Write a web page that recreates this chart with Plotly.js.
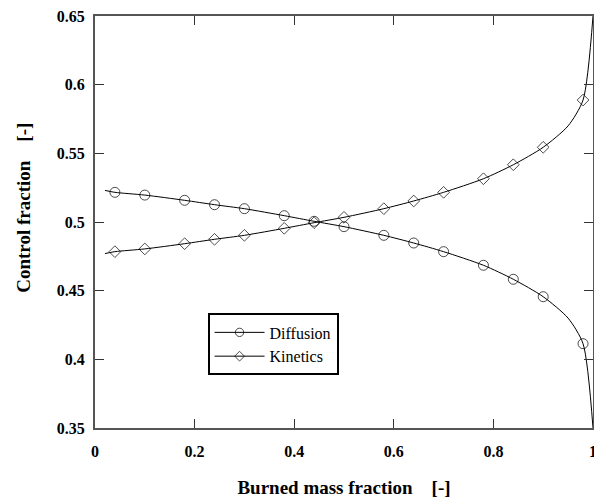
<!DOCTYPE html>
<html><head><meta charset="utf-8">
<script src="https://cdn.plot.ly/plotly-3.0.1.min.js"></script>
<style>html,body{margin:0;padding:0;background:#fff}</style>
</head><body>
<div id="chart" style="width:594px;height:499px"></div>
<script>
// burned mass fraction at curve points (endpoints and bend point carry no marker)
const burnedMass = [0.02, 0.04, 0.10, 0.18, 0.24, 0.30, 0.38, 0.44, 0.50, 0.58, 0.64, 0.70, 0.78, 0.84, 0.90, 0.95, 0.98, 1.00];
const diffusion  = [0.523, 0.5216, 0.5196, 0.5158, 0.5126, 0.5097, 0.5046, 0.5005, 0.4966, 0.4903, 0.4847, 0.4784, 0.4685, 0.4583, 0.4456, 0.430, 0.4114, 0.35];
const kinetics   = [0.477, 0.4784, 0.4804, 0.4842, 0.4874, 0.4903, 0.4954, 0.4995, 0.5034, 0.5097, 0.5153, 0.5216, 0.5315, 0.5417, 0.5544, 0.570, 0.5888, 0.65];
const hasMarker  = [0, 1, 1, 1, 1, 1, 1, 1, 1, 1, 1, 1, 1, 1, 1, 0, 1, 0];
const seriesNames = ['Diffusion', 'Kinetics'];
const xTicks = [0, 0.2, 0.4, 0.6, 0.8, 1];
const xTickText = ['0', '0.2', '0.4', '0.6', '0.8', '1'];
const yTicks = [0.35, 0.4, 0.45, 0.5, 0.55, 0.6, 0.65];
const yTickText = ['0.35', '0.4', '0.45', '0.5', '0.55', '0.6', '0.65'];

const sizes = hasMarker.map(m => m ? 10 : 0);
const FAM = 'Liberation Serif';
const NB = '\u00a0';

const traces = [
  {x: burnedMass, y: diffusion, name: seriesNames[0], mode: 'lines+markers', cliponaxis: false,
   line: {color: '#000', width: 1, shape: 'spline', smoothing: 0.7},
   marker: {symbol: 'circle-open', size: sizes, color: '#000', line: {width: 1, color: '#000'}}},
  {x: burnedMass, y: kinetics, name: seriesNames[1], mode: 'lines+markers', cliponaxis: false,
   line: {color: '#000', width: 1, shape: 'spline', smoothing: 0.7},
   marker: {symbol: 'diamond-open', size: sizes.map(s => s ? 9 : 0), color: '#000', line: {width: 1, color: '#000'}}}
];

const axisCommon = {
  showline: true, linecolor: '#555', linewidth: 2, mirror: 'ticks',
  ticks: 'inside', ticklen: 9, tickwidth: 1, tickcolor: '#333',
  showgrid: false, zeroline: false, ticklabeloverflow: 'allow',
  tickfont: {family: FAM, size: 16, color: '#000'}
};

const layout = {
  width: 594, height: 499,
  margin: {l: 95, r: 1, t: 16, b: 71},
  paper_bgcolor: '#fff', plot_bgcolor: '#fff',
  showlegend: true,
  xaxis: Object.assign({}, axisCommon, {
    range: [0, 1], tickvals: xTicks, ticktext: xTickText.map(t => '<b>' + t + '</b>'), ticklabelstandoff: 8,
    title: {text: '<b>Burned mass fraction' + NB.repeat(4) + '[-]</b>', font: {family: FAM, size: 19, color: '#000'}, standoff: 21}
  }),
  yaxis: Object.assign({}, axisCommon, {
    range: [0.35, 0.65], tickvals: yTicks, ticktext: yTickText.map(t => '<b>' + t + '</b>'), ticklabelstandoff: 5,
    title: {text: '<b>' + NB.repeat(6) + 'Control fraction' + NB.repeat(4) + '[-]</b>', font: {family: FAM, size: 19, color: '#000'}, standoff: 21}
  }),
  legend: {x: 0.226, y: 0.278, xanchor: 'left', yanchor: 'top',
    bordercolor: '#000', borderwidth: 2, bgcolor: '#fff',
    font: {family: FAM, size: 16, color: '#000'}, itemwidth: 50, tracegroupgap: 0}
};

Plotly.newPlot('chart', traces, layout, {displayModeBar: false});
</script>
</body></html>
